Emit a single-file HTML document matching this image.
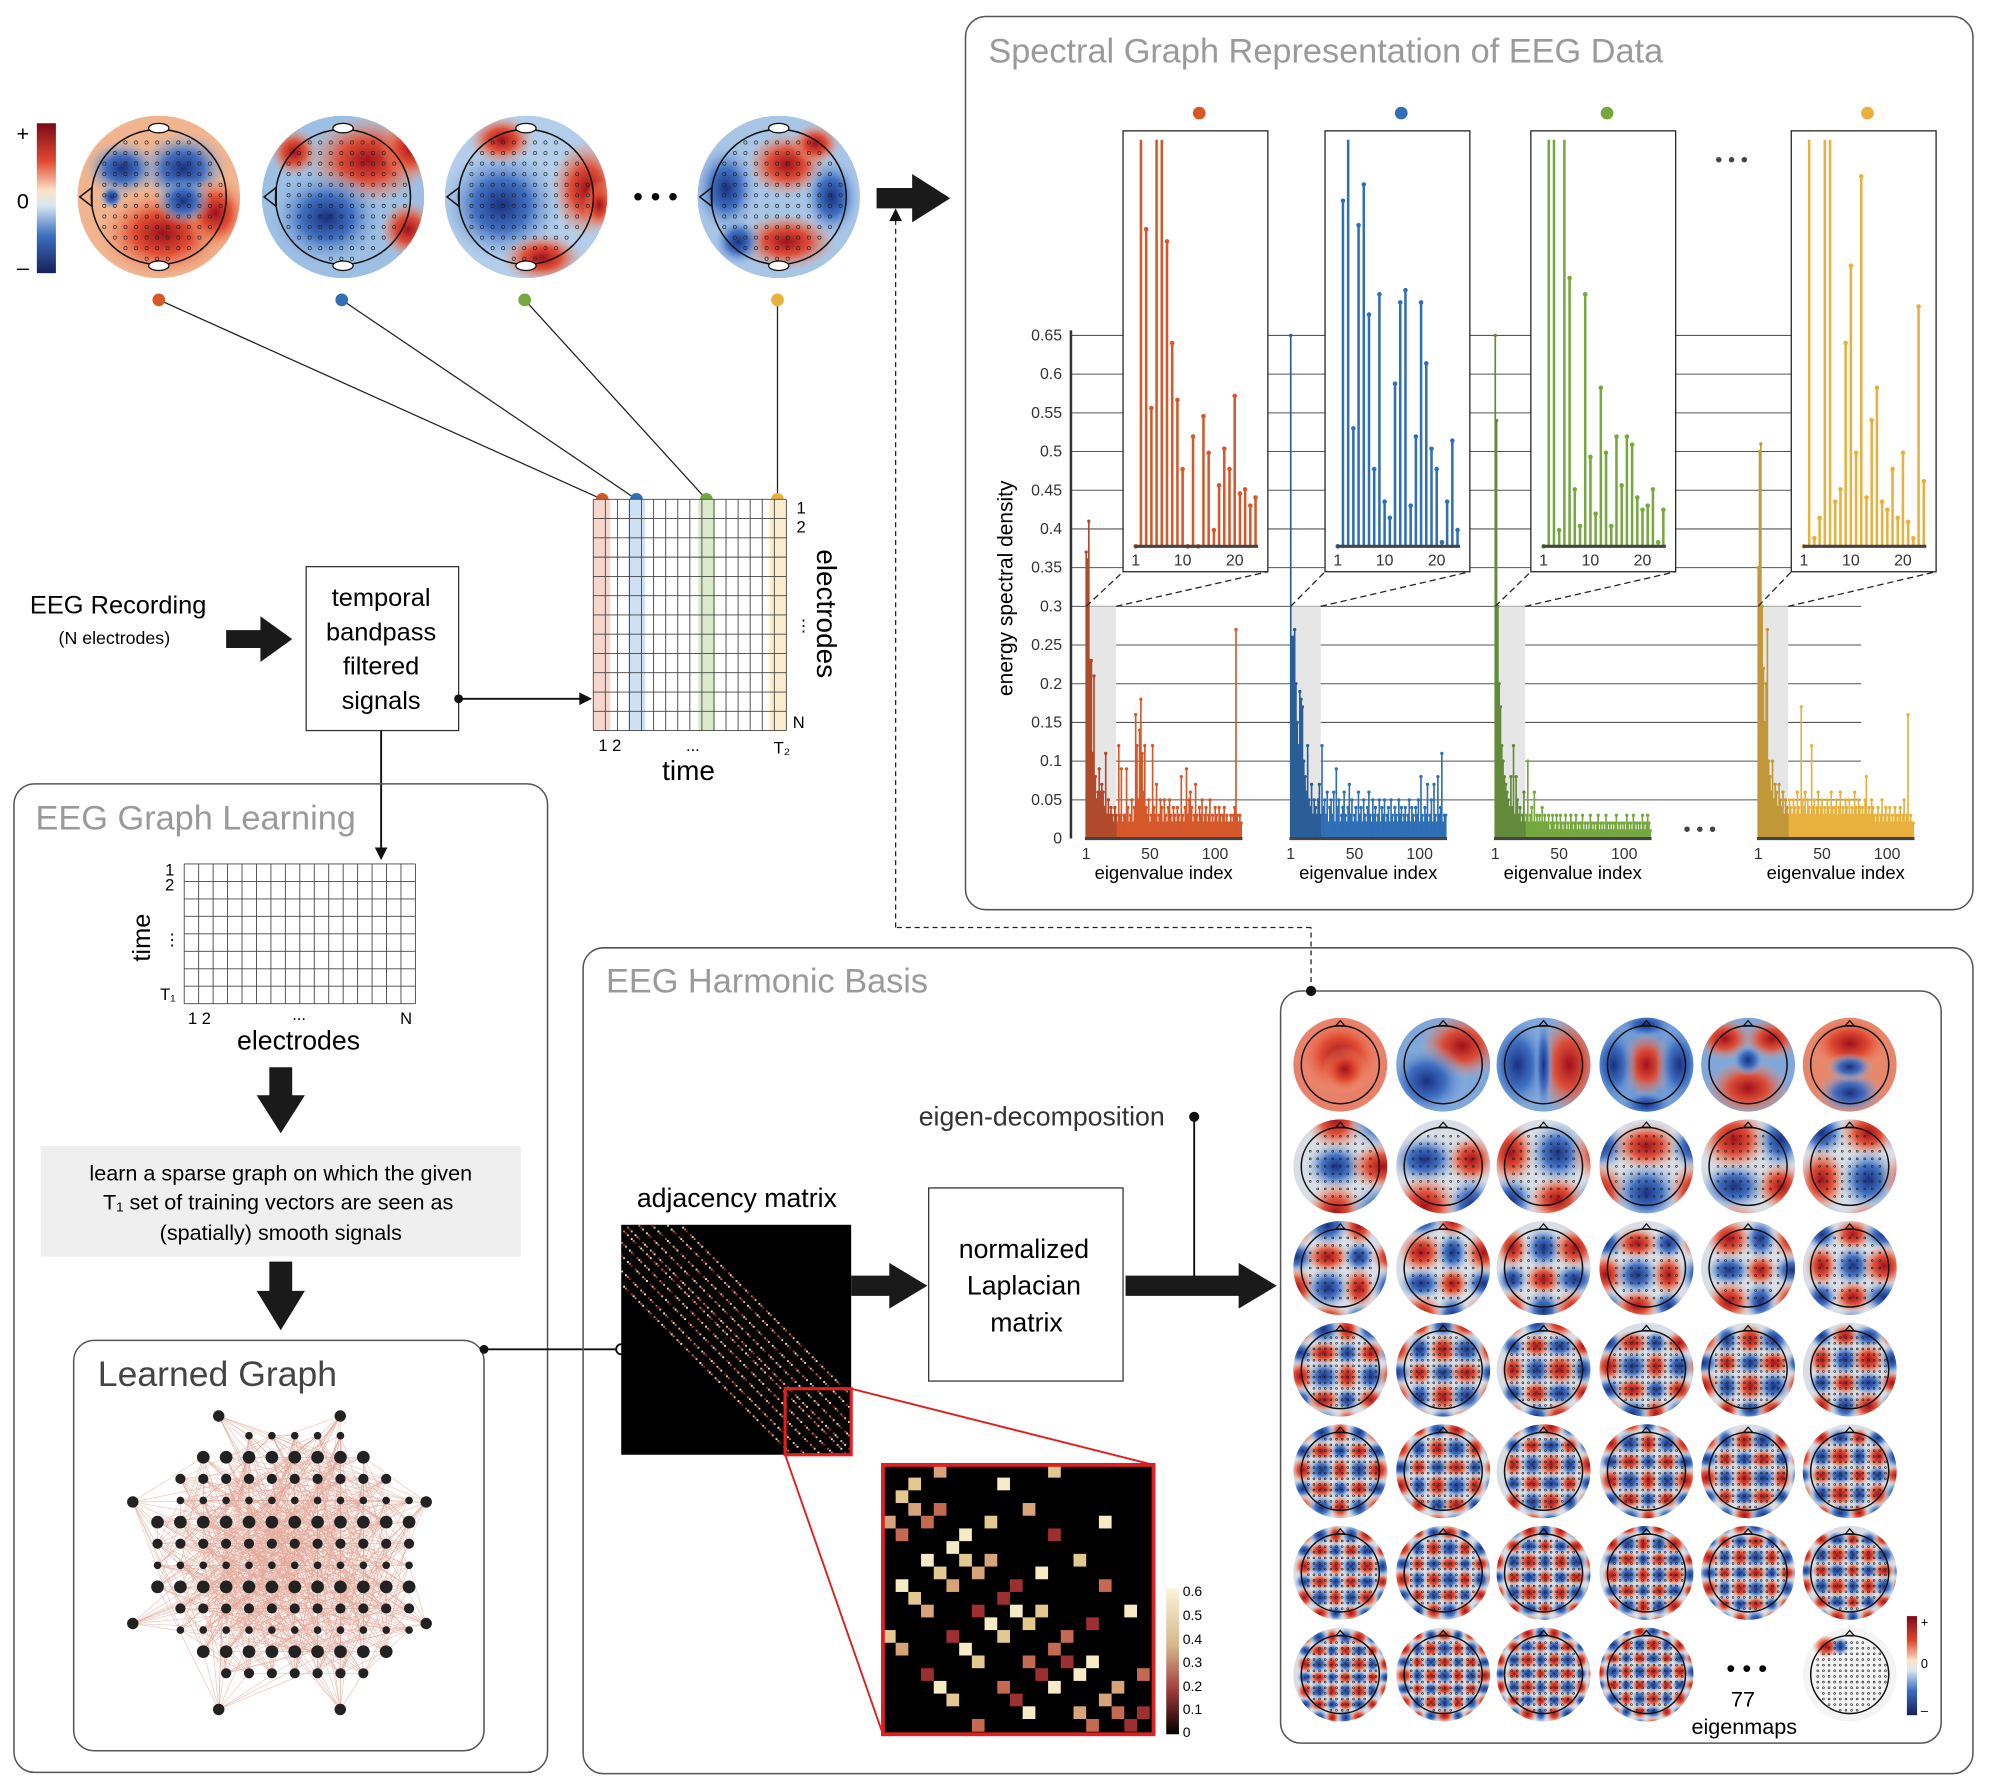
<!DOCTYPE html>
<html><head><meta charset="utf-8"><style>
html,body{margin:0;padding:0;background:#fff}
svg{display:block}
text{font-family:"Liberation Sans",sans-serif}
</style></head><body>
<svg id="fig" xmlns="http://www.w3.org/2000/svg" width="1992" height="1780" viewBox="0 0 1568 1401" preserveAspectRatio="none">
<defs>
<linearGradient id="cbar" x1="0" y1="0" x2="0" y2="1">
<stop offset="0" stop-color="#7a0a18"/><stop offset="0.25" stop-color="#e0482f"/><stop offset="0.45" stop-color="#fbe3c8"/><stop offset="0.55" stop-color="#d8e6f3"/><stop offset="0.75" stop-color="#3b6fbf"/><stop offset="1" stop-color="#16205a"/></linearGradient>
<linearGradient id="acbar" x1="0" y1="0" x2="0" y2="1">
<stop offset="0" stop-color="#fbf5da"/><stop offset="0.4" stop-color="#d4b58c"/><stop offset="0.7" stop-color="#a03a3a"/><stop offset="1" stop-color="#000"/></linearGradient>
<radialGradient id="gr"><stop offset="0" stop-color="#a0101a"/><stop offset="0.45" stop-color="#e0482f" stop-opacity="0.95"/><stop offset="1" stop-color="#f3a07a" stop-opacity="0"/></radialGradient>
<radialGradient id="gb"><stop offset="0" stop-color="#18307f"/><stop offset="0.45" stop-color="#3c6cc0" stop-opacity="0.95"/><stop offset="1" stop-color="#9cbde3" stop-opacity="0"/></radialGradient>
</defs>

<g>
<rect x="29" y="97" width="15" height="118" fill="url(#cbar)"/>
<text x="18" y="111" font-size="17" text-anchor="middle">+</text>
<text x="18" y="164" font-size="17" text-anchor="middle">0</text>
<text x="18" y="216" font-size="17" text-anchor="middle">–</text>
</g>
<g id="topTopos"></g>
<text x="516" y="162" font-size="22" text-anchor="middle">• • •</text>

<g stroke="#222" stroke-width="1">
<line x1="125" y1="236" x2="474" y2="393"/><line x1="269" y1="236" x2="501" y2="393"/>
<line x1="413" y1="236" x2="556" y2="393"/><line x1="612" y1="236" x2="612" y2="393"/>
</g>
<g>
<circle cx="125" cy="236" r="5" fill="#d4582a"/><circle cx="269" cy="236" r="5" fill="#2f6fb5"/>
<circle cx="413" cy="236" r="5" fill="#75a83f"/><circle cx="612" cy="236" r="5" fill="#e8b03c"/>
<circle cx="474" cy="393" r="5" fill="#d4582a"/><circle cx="501" cy="393" r="5" fill="#2f6fb5"/>
<circle cx="556" cy="393" r="5" fill="#75a83f"/><circle cx="612" cy="393" r="5" fill="#e8b03c"/>
</g>

<g id="sigMatrix"></g>
<g font-size="13">
<text x="627" y="404">1</text><text x="627" y="419">2</text><text x="626" y="497">⋮</text><text x="624" y="573">N</text>
<text x="471" y="591">1 2</text><text x="540" y="591">...</text><text x="609" y="593">T₂</text>
<text x="542" y="614" font-size="22" text-anchor="middle">time</text>
<text transform="translate(643,483) rotate(90)" font-size="22" text-anchor="middle">electrodes</text>
</g>

<text x="93" y="483" font-size="20" text-anchor="middle">EEG Recording</text>
<text x="90" y="507" font-size="14" text-anchor="middle">(N electrodes)</text>
<polygon points="178,496 205,496 205,485 230,503 205,521 205,510 178,510" fill="#1a1a1a"/>
<g>
<rect x="241" y="446" width="120" height="129" fill="#fff" stroke="#333" stroke-width="1"/>
<g font-size="20" text-anchor="middle"><text x="300" y="477">temporal</text><text x="300" y="504">bandpass</text><text x="300" y="531">filtered</text><text x="300" y="558">signals</text></g>
</g>
<line x1="361" y1="550" x2="458" y2="550" stroke="#111" stroke-width="1.5"/><circle cx="361" cy="550" r="3.5" fill="#111"/>
<polygon points="456,545 466,550 456,555" fill="#111"/>
<line x1="300" y1="575" x2="300" y2="668" stroke="#111" stroke-width="1.5"/><polygon points="295,667 300,677 305,667" fill="#111"/>

<g>
<rect x="11" y="617" width="420" height="778" rx="16" fill="none" stroke="#555" stroke-width="1.2"/>
<text x="28" y="653" font-size="27" fill="#9a9a9a">EEG Graph Learning</text>
</g>
<g id="trainMatrix"></g>
<g font-size="13">
<text x="130" y="689">1</text><text x="130" y="701">2</text><text x="129" y="744">⋮</text><text x="126" y="787">T₁</text>
<text x="148" y="806">1 2</text><text x="230" y="803">...</text><text x="315" y="806">N</text>
<text x="235" y="826" font-size="21" text-anchor="middle">electrodes</text>
<text transform="translate(118,738) rotate(-90)" font-size="20" text-anchor="middle">time</text>
</g>
<polygon points="212,840 230,840 230,862 240,862 221,892 202,862 212,862" fill="#1a1a1a"/>
<g>
<rect x="32" y="902" width="378" height="87" fill="#efefef"/>
<g font-size="17" text-anchor="middle"><text x="221" y="929">learn a sparse graph on which the given</text><text x="219" y="952">T₁ set of training vectors are seen as</text><text x="221" y="976">(spatially) smooth signals</text></g>
</g>
<polygon points="212,993 230,993 230,1016 240,1016 221,1047 202,1016 212,1016" fill="#1a1a1a"/>
<g>
<rect x="58" y="1055" width="323" height="323" rx="16" fill="#fff" stroke="#555" stroke-width="1.2"/>
<text x="77" y="1091" font-size="28" fill="#444">Learned Graph</text>
</g>
<g id="network"></g>
<line x1="381" y1="1062" x2="489" y2="1062" stroke="#111" stroke-width="1.5"/>
<circle cx="381" cy="1062" r="3.5" fill="#111"/><circle cx="489" cy="1062" r="4" fill="#fff" stroke="#111" stroke-width="1.5"/>

<g>
<rect x="459" y="746" width="1094" height="650" rx="16" fill="none" stroke="#555" stroke-width="1.2"/>
<text x="477" y="781" font-size="27" fill="#9a9a9a">EEG Harmonic Basis</text>
</g>
<text x="580" y="950" font-size="21" text-anchor="middle">adjacency matrix</text>
<g id="adj"><rect x="489" y="964" width="181" height="181" fill="#000"/></g>
<g id="adjZoom"><rect x="695" y="1153" width="213" height="212" fill="#000"/></g>
<g fill="none" stroke="#e02020" stroke-width="1.5">
<rect x="618" y="1093" width="52" height="52" stroke-width="2.5"/>
<line x1="618" y1="1145" x2="695" y2="1365"/><line x1="670" y1="1093" x2="908" y2="1153"/>
<rect x="695" y="1153" width="213" height="212" stroke-width="3"/>
</g>
<g font-size="11">
<rect x="918" y="1250" width="10" height="115" fill="url(#acbar)"/>
<text x="931" y="1256">0.6</text><text x="931" y="1275">0.5</text><text x="931" y="1294">0.4</text><text x="931" y="1312">0.3</text><text x="931" y="1331">0.2</text><text x="931" y="1349">0.1</text><text x="931" y="1367">0</text>
</g>
<polygon points="670,1004 700,1004 700,994 730,1012 700,1030 700,1020 670,1020" fill="#1a1a1a"/>
<g>
<rect x="731" y="935" width="153" height="152" fill="#fff" stroke="#333"/>
<g font-size="21" text-anchor="middle"><text x="806" y="990">normalized</text><text x="806" y="1019">Laplacian</text><text x="808" y="1048">matrix</text></g>
</g>
<polygon points="886,1004 975,1004 975,994 1005,1012 975,1030 975,1020 886,1020" fill="#1a1a1a"/>
<line x1="940" y1="879" x2="940" y2="1005" stroke="#111" stroke-width="1.5"/><circle cx="940" cy="879" r="4" fill="#111"/>
<text x="820" y="886" font-size="21" fill="#333" text-anchor="middle">eigen-decomposition</text>
<g><rect x="1008" y="780" width="520" height="592" rx="16" fill="none" stroke="#555" stroke-width="1.2"/></g>
<g id="eigenmaps"></g>
<g>
<text x="1375" y="1320" font-size="20" text-anchor="middle">• • •</text>
<text x="1372" y="1343" font-size="17" text-anchor="middle">77</text>
<text x="1373" y="1365" font-size="17" text-anchor="middle">eigenmaps</text>
<rect x="1501" y="1272" width="8" height="78" fill="url(#cbar)"/>
<text x="1512" y="1280" font-size="10">+</text><text x="1512" y="1313" font-size="10">0</text><text x="1512" y="1350" font-size="10">–</text>
</g>
<line x1="1032" y1="780" x2="1032" y2="730" stroke="#222" stroke-dasharray="4,3"/>
<line x1="1032" y1="730" x2="705" y2="730" stroke="#222" stroke-dasharray="4,3"/>
<line x1="705" y1="730" x2="705" y2="172" stroke="#222" stroke-dasharray="4,3"/>
<polygon points="700,174 705,164 710,174" fill="#111"/>
<circle cx="1032" cy="780" r="4" fill="#111"/>
<polygon points="690,148 718,148 718,137 748,156 718,175 718,164 690,164" fill="#1a1a1a"/>

<g>
<rect x="760" y="13" width="793" height="703" rx="16" fill="none" stroke="#555" stroke-width="1.2"/>
<text x="778" y="49" font-size="27" fill="#9a9a9a">Spectral Graph Representation of EEG Data</text>
</g>
<g id="spectral"></g>
</svg>
<script>
const NS='http://www.w3.org/2000/svg';
function mk(tag,attrs,parent){const e=document.createElementNS(NS,tag);for(const k in attrs)e.setAttribute(k,attrs[k]);if(parent)parent.appendChild(e);return e;}

/* ---------------- spectral chart data ---------------- */
const seriesColors=['#d4582a','#2f6fb5','#75a83f','#e8b03c'];
const darkColors=['#b04a2a','#2a5d98','#628a3a','#c09838'];
const yTicks=[0,0.05,0.1,0.15,0.2,0.25,0.3,0.35,0.4,0.45,0.5,0.55,0.6,0.65];
const yTickLabels=['0','0.05','0.1','0.15','0.2','0.25','0.3','0.35','0.4','0.45','0.5','0.55','0.6','0.65'];
const xTicks=[1,50,100];
const insetTicks=[1,10,20];
const redSpectrum=[0.37,0.36,0.41,0.23,0.23,0.11,0.21,0.08,0.05,0.06,0.09,0.06,0.07,0.06,0.04,0.11,0.03,0.05,0.03,0.04,0.03,0.02,0.04,0.03,0.02,0.12,0.03,0.09,0.02,0.03,0.03,0.09,0.04,0.02,0.03,0.05,0.02,0.04,0.16,0.12,0.05,0.14,0.18,0.11,0.06,0.12,0.04,0.03,0.05,0.02,0.03,0.12,0.04,0.03,0.07,0.02,0.03,0.05,0.04,0.02,0.05,0.03,0.02,0.04,0.05,0.03,0.02,0.04,0.03,0.02,0.04,0.03,0.02,0.08,0.03,0.02,0.04,0.09,0.03,0.05,0.06,0.04,0.02,0.03,0.07,0.03,0.02,0.04,0.03,0.05,0.02,0.03,0.04,0.02,0.03,0.05,0.02,0.03,0.02,0.04,0.03,0.02,0.04,0.03,0.02,0.03,0.04,0.02,0.03,0.02,0.02,0.03,0.02,0.03,0.04,0.27,0.03,0.02,0.03,0.02];
const blueSpectrum=[0.65,0.26,0.26,0.27,0.20,0.15,0.12,0.19,0.18,0.17,0.10,0.08,0.06,0.12,0.05,0.04,0.07,0.03,0.05,0.04,0.03,0.05,0.07,0.03,0.12,0.04,0.05,0.03,0.06,0.02,0.04,0.05,0.03,0.06,0.02,0.09,0.04,0.05,0.02,0.03,0.04,0.06,0.03,0.02,0.04,0.07,0.03,0.05,0.02,0.03,0.04,0.02,0.06,0.03,0.04,0.02,0.05,0.03,0.02,0.04,0.06,0.03,0.02,0.05,0.03,0.04,0.02,0.03,0.05,0.02,0.04,0.03,0.05,0.02,0.03,0.04,0.02,0.05,0.03,0.02,0.04,0.03,0.02,0.05,0.03,0.04,0.02,0.03,0.04,0.02,0.03,0.05,0.02,0.04,0.03,0.02,0.04,0.03,0.05,0.02,0.08,0.03,0.02,0.04,0.03,0.07,0.02,0.03,0.05,0.02,0.07,0.03,0.02,0.08,0.03,0.04,0.11,0.02,0.03,0.03];
const greenSpectrum=[0.65,0.54,0.30,0.20,0.17,0.12,0.10,0.08,0.07,0.06,0.05,0.04,0.08,0.04,0.12,0.03,0.08,0.05,0.03,0.04,0.02,0.03,0.06,0.02,0.03,0.10,0.02,0.03,0.04,0.02,0.06,0.02,0.03,0.02,0.03,0.02,0.04,0.02,0.03,0.02,0.02,0.03,0.01,0.02,0.03,0.02,0.01,0.03,0.02,0.01,0.03,0.02,0.01,0.02,0.03,0.01,0.02,0.01,0.03,0.02,0.01,0.02,0.03,0.01,0.02,0.01,0.02,0.03,0.01,0.02,0.01,0.02,0.01,0.03,0.02,0.01,0.02,0.01,0.02,0.03,0.01,0.02,0.01,0.02,0.01,0.03,0.02,0.01,0.02,0.01,0.02,0.01,0.02,0.03,0.01,0.02,0.01,0.02,0.01,0.02,0.01,0.03,0.02,0.01,0.02,0.01,0.03,0.02,0.01,0.02,0.01,0.02,0.01,0.03,0.02,0.01,0.02,0.03,0.02,0.01];
const yellowSpectrum=[0.35,0.50,0.51,0.30,0.22,0.15,0.20,0.27,0.10,0.08,0.06,0.10,0.05,0.07,0.06,0.04,0.07,0.05,0.04,0.06,0.03,0.05,0.04,0.03,0.05,0.04,0.03,0.05,0.04,0.03,0.06,0.04,0.03,0.17,0.05,0.04,0.06,0.03,0.05,0.04,0.03,0.12,0.04,0.05,0.03,0.04,0.06,0.03,0.04,0.05,0.03,0.04,0.03,0.05,0.04,0.03,0.06,0.04,0.03,0.04,0.05,0.03,0.04,0.06,0.03,0.04,0.03,0.05,0.04,0.03,0.05,0.03,0.04,0.03,0.06,0.04,0.03,0.05,0.04,0.03,0.04,0.03,0.05,0.08,0.03,0.04,0.03,0.05,0.04,0.03,0.02,0.03,0.04,0.02,0.03,0.05,0.02,0.03,0.04,0.02,0.03,0.04,0.02,0.03,0.02,0.04,0.03,0.02,0.03,0.04,0.02,0.03,0.05,0.02,0.03,0.16,0.02,0.03,0.02,0.02];
const redInset=[0,1,0.78,0.34,1,1,0.75,0.50,0.36,0.19,0.0,0.27,0.0,0.32,0.23,0.04,0.15,0.24,0.19,0.37,0.13,0.14,0.10,0.12];
const blueInset=[0,0.85,1,0.29,0.79,0.89,0.57,0.19,0.62,0.11,0.07,0.40,0.60,0.63,0.10,0.27,0.60,0.45,0.24,0.19,0.01,0.11,0.26,0.04];
const greenInset=[0,1,1,0.04,1,0.66,0.14,0.05,0.62,0.22,0.08,0.39,0.23,0.05,0.27,0.15,0.27,0.25,0.12,0.09,0.10,0.14,0.01,0.09];
const yellowInset=[0,1,0.02,0.07,1,1,0.11,0.14,0.50,0.69,0.23,0.91,0.12,0.31,0.39,0.11,0.09,0.19,0.07,0.23,0.06,0.02,0.59,0.16];

const spectra=[redSpectrum,blueSpectrum,greenSpectrum,yellowSpectrum];
const insets=[redInset,blueInset,greenInset,yellowInset];
const chartX0=[855,1016,1177,1384];
const insetBoxX=[884,1043,1205,1410];
const Y0=660,YPX=609.2,XSPAN=122;
const yS=v=>Y0-v*YPX;
const xS=(c,i,n)=>chartX0[c]+(i-1)*XSPAN/(n-1);
const iyS=v=>430-Math.min(v,1)*320;
const ixS=(c,i)=>insetBoxX[c]+10+(i-1)*4.1;

const sp=document.getElementById('spectral');
yTicks.forEach((t,k)=>{
  if(t>0){const g=mk('line',{x1:843,x2:1465,y1:yS(t),y2:yS(t),stroke:'#555','stroke-width':0.8},sp);
  
  }
  const tl=mk('text',{x:836,y:yS(t)+4,'font-size':12.5,'text-anchor':'end',fill:'#333'},sp);tl.textContent=yTickLabels[k];
  
  
});
const yax=mk('line',{x1:843,x2:843,y1:260,y2:660,stroke:'#333','stroke-width':2},sp);


const ylab=mk('text',{transform:'translate(797,463) rotate(-90)','font-size':16.5,'text-anchor':'middle'},sp);ylab.textContent='energy spectral density';



spectra.forEach((arr,c)=>{
  const n=arr.length,col=seriesColors[c];
  const g=mk('g',{},sp);
  
  
  const band=mk('rect',{x:xS(c,1,n),y:yS(0.3),width:xS(c,24,n)-xS(c,1,n),height:yS(0)-yS(0.3),fill:'#e6e6e6'},g);
  
  
  arr.forEach((v,i)=>{
    const x=xS(c,i+1,n);
    const cc=i<24?darkColors[c]:col;
    const s=mk('line',{x1:x,x2:x,y1:Y0,y2:yS(v),stroke:cc,'stroke-width':1.3},g);
    
    
    const d=mk('circle',{cx:x,cy:yS(v),r:1.3,fill:cc},g);
    
    
  });
  const ax=mk('line',{x1:chartX0[c]-1,x2:chartX0[c]+XSPAN+1,y1:Y0,y2:Y0,stroke:'#444','stroke-width':2.5},g);
  
  
  xTicks.forEach(t=>{
    const tt=mk('text',{x:xS(c,t,n),y:676,'font-size':12.5,'text-anchor':'middle',fill:'#333'},g);tt.textContent=t;
    
    
  });
  const xl=mk('text',{x:chartX0[c]+61,y:692,'font-size':14.5,'text-anchor':'middle'},g);xl.textContent='eigenvalue index';
  
  
  const bx=insetBoxX[c];
  [[xS(c,1,n),yS(0.3),bx,450],[xS(c,24,n),yS(0.3),bx+114,450]].forEach(p=>{
    const l=mk('line',{x1:p[0],y1:p[1],x2:p[2],y2:p[3],stroke:'#222','stroke-dasharray':'5,3'},g);
    
    
  });
  const ig=mk('g',{},sp);
  
  
  mk('rect',{x:bx,y:103,width:114,height:347,fill:'#fff',stroke:'#222','stroke-width':1},ig);
  insets[c].forEach((v,i)=>{
    const x=ixS(c,i+1);
    const s=mk('line',{x1:x,x2:x,y1:430,y2:iyS(v),stroke:col,'stroke-width':2},ig);
    
    
    if(v<1){const d=mk('circle',{cx:x,cy:iyS(v),r:1.8,fill:col},ig);
    
    }
  });
  mk('line',{x1:ixS(c,1)-1,x2:ixS(c,24)+2,y1:430,y2:430,stroke:'#444','stroke-width':2.5},ig);
  insetTicks.forEach(t=>{
    const tt=mk('text',{x:ixS(c,t),y:445,'font-size':12.5,'text-anchor':'middle',fill:'#333'},ig);tt.textContent=t;
    
    
  });
  const cd=mk('circle',{cx:bx+60,cy:89,r:5,fill:col},sp);
  
  
});
const e1=mk('text',{x:1363,y:131,'font-size':16,'text-anchor':'middle',fill:'#444'},sp);e1.textContent='• • •';


const e2=mk('text',{x:1338,y:658,'font-size':16,'text-anchor':'middle',fill:'#444'},sp);e2.textContent='• • •';



/* ---------------- topomaps ---------------- */
let clipId=0;
function topo(parent,cx,cy,r,base,blobs,noseTop,dots){
  const g=mk('g',{},parent);
  const id='cp'+(clipId++);
  const cp=mk('clipPath',{id:id},g);mk('circle',{cx:cx,cy:cy,r:r},cp);
  const inner=mk('g',{'clip-path':'url(#'+id+')'},g);
  mk('circle',{cx:cx,cy:cy,r:r,fill:base},inner);
  blobs.forEach(b=>mk('ellipse',{cx:cx+b[0]*r,cy:cy+b[1]*r,rx:b[2]*r,ry:b[3]*r,fill:b[4]?'url(#gr)':'url(#gb)'},inner));
  if(dots){const st=dots;for(let yy=-0.8;yy<=0.8;yy+=st)for(let xx=-0.8;xx<=0.8;xx+=st){if(xx*xx+yy*yy<0.62)mk('circle',{cx:cx+xx*r,cy:cy+yy*r,r:r*0.02,fill:'none',stroke:'#222','stroke-width':0.5},inner);}}
  const hr=r*0.83;
  mk('circle',{cx:cx,cy:cy,r:hr,fill:'none',stroke:'#111','stroke-width':1.2},g);
  if(noseTop){mk('polygon',{points:`${cx-hr*0.12},${cy-hr*0.99} ${cx},${cy-hr*1.13} ${cx+hr*0.12},${cy-hr*0.99}`,fill:'none',stroke:'#111'},g);}
  else{mk('polygon',{points:`${cx-hr*0.99},${cy-hr*0.14} ${cx-hr*1.17},${cy} ${cx-hr*0.99},${cy+hr*0.14}`,fill:'none',stroke:'#111','stroke-width':1.2},g);
    mk('ellipse',{cx:cx,cy:cy-hr*1.02,rx:hr*0.15,ry:hr*0.07,fill:'#fff',stroke:'#111'},g);
    mk('ellipse',{cx:cx,cy:cy+hr*1.02,rx:hr*0.15,ry:hr*0.07,fill:'#fff',stroke:'#111'},g);}
  return g;
}
const tt=document.getElementById('topTopos');
const topBase=['#f0b48e','#9dbfe4','#b3cdea','#a8c5e6'];
const topBlobs=[
 [[0.3,-0.35,0.55,0.45,0],[-0.45,-0.35,0.45,0.35,0],[0.05,0.45,0.8,0.55,1],[0.7,0.2,0.4,0.45,1],[-0.58,0,0.15,0.15,0],[0.3,0.05,0.35,0.3,0]],
 [[0.3,-0.45,0.75,0.55,1],[-0.2,0.25,0.7,0.6,0],[0.8,0.4,0.35,0.35,1],[-0.6,-0.55,0.3,0.3,1],[0.85,-0.6,0.4,0.4,1]],
 [[0.75,-0.1,0.45,0.6,1],[-0.3,0.1,0.75,0.7,0],[0.2,0.75,0.5,0.3,1],[-0.3,-0.7,0.4,0.3,1],[0.9,0.1,0.2,0.3,1]],
 [[0.1,-0.4,0.5,0.4,1],[-0.65,-0.1,0.4,0.55,0],[0.1,0.55,0.6,0.35,1],[0.65,0.0,0.35,0.5,0],[-0.5,0.55,0.3,0.3,0],[0.45,-0.65,0.3,0.25,1]]
];
[[125,155],[270,155],[414,155],[613,155]].forEach((p,i)=>{
  const g=topo(tt,p[0],p[1],64,topBase[i],topBlobs[i],false,0.13);
  
  
});

/* ---------------- eigenmaps ---------------- */
const em=document.getElementById('eigenmaps');
const ex=[1055,1136,1215,1296,1376,1456], ey=[838,918,998,1078,1158,1238,1318];
const firstRow=[
 [[0,-0.2,0.95,0.85,1],[0.1,0.1,0.5,0.5,1]],
 [[0.4,-0.4,0.9,0.7,1],[-0.35,0.35,0.9,0.8,0]],
 [[-0.55,0,0.7,1.1,0],[0.55,0,0.7,1.1,1],[0,0,0.2,1.1,0]],
 [[0,0,0.55,0.7,1],[-0.7,0,0.5,0.9,0],[0.7,0,0.5,0.9,0],[0,-0.85,0.6,0.3,0],[0,0.85,0.6,0.3,0]],
 [[-0.5,-0.55,0.6,0.45,1],[0.5,-0.55,0.6,0.45,1],[0,0.5,0.9,0.6,1],[0,-0.1,0.35,0.35,0]],
 [[0,-0.45,0.9,0.6,1],[0,0.6,0.7,0.45,0],[0,0.05,0.5,0.3,0]]
];
const firstBase=['#e8806a','#7fa7da','#7fa7da','#6c98d4','#7fa7da','#e6876c'];
ey.forEach((y,ri)=>ex.forEach((x,ci)=>{
  if(ri===6&&ci===4)return;
  let blobs=[],base='#d8dde6';
  if(ri===6&&ci===5){blobs=[[-0.5,-0.6,0.3,0.25,1],[-0.2,-0.6,0.2,0.2,0]];base='#f4f4f4';}
  else if(ri===0){blobs=firstRow[ci];base=firstBase[ci];}
  else{
    const k=ri*6+ci+1, m=ri+1;
    const sh=((k*37)%10)/10;
    for(let a=0;a<m+1;a++)for(let b=0;b<m+1;b++){
      const px=-1+2*(a+sh)/m, py=-1+2*(b+((k*13)%7)/7)/m;
      const w=1.05/m;
      blobs.push([px,py,w*(1+((a+k)%3)*0.2),w*(1+((b+k)%2)*0.3),(a+b+k)%2]);
    }
  }
  const g=topo(em,x,y,37,base,blobs,true,ri>0?(ri<3?0.16:0.12):0);
  
  
}));

/* ---------------- matrices ---------------- */
function gridMatrix(parent,x0,y0,w,h,cols,rows,stripes){
  stripes.forEach(s=>mk('rect',{x:x0+s[0]*w/cols,y:y0,width:w/cols*1.4,height:h,fill:s[1]},parent));
  for(let i=0;i<=cols;i++)mk('line',{x1:x0+i*w/cols,x2:x0+i*w/cols,y1:y0,y2:y0+h,stroke:'#444','stroke-width':0.7},parent);
  for(let j=0;j<=rows;j++)mk('line',{x1:x0,x2:x0+w,y1:y0+j*h/rows,y2:y0+j*h/rows,stroke:'#444','stroke-width':0.7},parent);
}
gridMatrix(document.getElementById('sigMatrix'),467,393,152,182,16,12,[[0,'#f6d6cd'],[2.9,'#cfe0f2'],[8.7,'#dbe9cc'],[14.6,'#fbeccb']]);
gridMatrix(document.getElementById('trainMatrix'),145,680,182,110,16,8,[]);

/* ---------------- adjacency ---------------- */
const adj=document.getElementById('adj');
const offs=[2,9,16,24,31];
for(let i=0;i<120;i++)offs.forEach((o,k)=>{
  if((i*7+k*3)%4===0)return;
  const col=['#f4e6b8','#c9705a','#8a2020','#e8c38e','#b04838'][(i+k)%5];
  [[i,i+o],[i+o,i]].forEach(p=>{if(p[0]<120&&p[1]<120)mk('rect',{x:489+p[0]*1.5,y:964+p[1]*1.5,width:1.5,height:1.5,fill:col},adj);});
});
const az=document.getElementById('adjZoom');
const zo=[1,4,8,13];
for(let i=0;i<21;i++)zo.forEach((o,k)=>{
  if((i*5+k*2)%4===0)return;
  const col=['#f6ebc4','#d7a47a','#9c3030','#e3c990','#c46a50'][(i*3+k)%5];
  const a=i,b=i+o;
  if(b<21){mk('rect',{x:695+a*10,y:1153+b*10,width:10,height:10,fill:col},az);
    if((i+k)%2)mk('rect',{x:695+b*10,y:1153+a*10,width:10,height:10,fill:col},az);}
});

/* ---------------- network ---------------- */
const net=document.getElementById('network');
const nodes=[];
for(let a=0;a<8;a++){const t=a*Math.PI/4+Math.PI/8;nodes.push([220+125*Math.cos(t),1230+125*Math.sin(t),4.5]);}
for(let yy=-100;yy<=100;yy+=17)for(let xx=-105;xx<=105;xx+=18){
  if(xx*xx+yy*yy<110*110)nodes.push([220+xx+((yy/17)%2?9:0),1230+yy,3+((xx+yy+400)%3)]);
}
nodes.forEach((n,i)=>nodes.forEach((m,j)=>{
  if(j>i&&(i*13+j*7)%11===0){mk('line',{x1:n[0],y1:n[1],x2:m[0],y2:m[1],stroke:'#e2a89a','stroke-width':0.5,opacity:0.7},net);}
}));
nodes.forEach(n=>mk('circle',{cx:n[0],cy:n[1],r:n[2],fill:'#222'},net));
</script>
</body></html>
